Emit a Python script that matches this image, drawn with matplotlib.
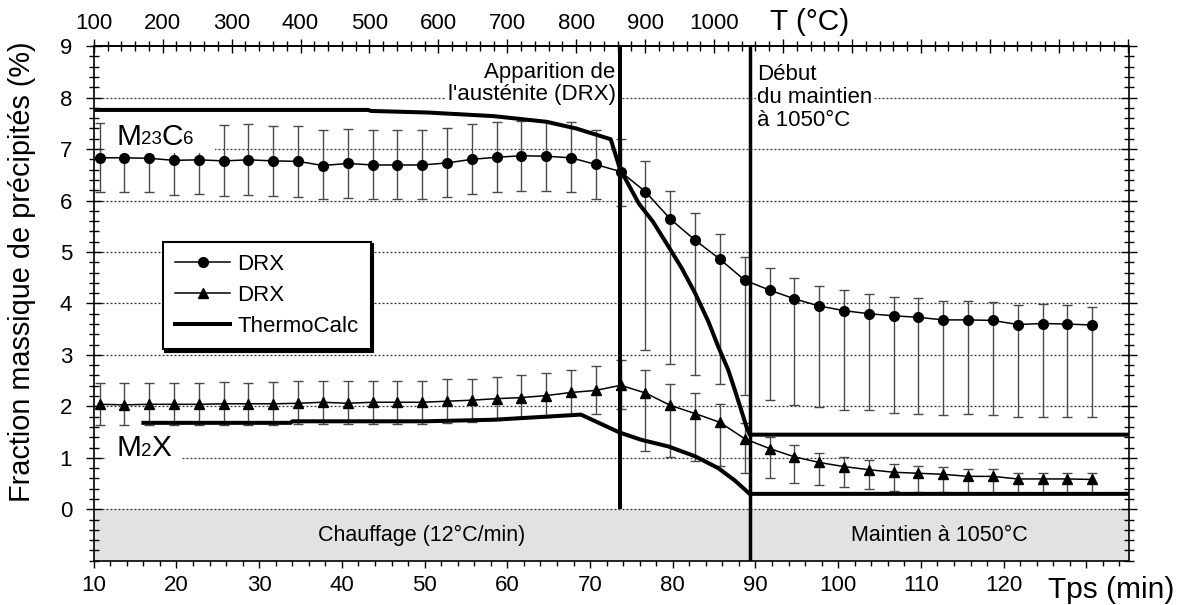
import matplotlib
matplotlib.use("Agg")
import matplotlib.pyplot as plt
from matplotlib.patches import Rectangle
from matplotlib.ticker import MultipleLocator, FuncFormatter

plt.rcParams["font.family"] = ["Liberation Sans", "DejaVu Sans"]

# ---- data ----
# time (min) of each DRX measurement
t_drx = [10.7, 13.7, 16.7, 19.7, 22.7, 25.7, 28.7, 31.7, 34.7, 37.7,
         40.7, 43.7, 46.7, 49.7, 52.7, 55.7, 58.7, 61.7, 64.7, 67.7,
         70.7, 73.7, 76.7, 79.7, 82.7, 85.7, 88.7, 91.7, 94.7, 97.7,
         100.7, 103.7, 106.7, 109.7, 112.7, 115.7, 118.7, 121.7, 124.7, 127.7,
         130.7]

# M23C6 (DRX, circles) with lower / upper bound of the error bars
m23_drx = [6.83, 6.83, 6.82, 6.78, 6.79, 6.77, 6.79, 6.77, 6.76, 6.68,
           6.72, 6.69, 6.69, 6.69, 6.73, 6.80, 6.84, 6.87, 6.86, 6.83,
           6.70, 6.56, 6.17, 5.64, 5.23, 4.86, 4.45, 4.26, 4.09, 3.95,
           3.86, 3.80, 3.76, 3.73, 3.68, 3.68, 3.67, 3.59, 3.61, 3.60,
           3.58]
m23_lo = [6.16, 6.16, 6.16, 6.10, 6.12, 6.09, 6.11, 6.09, 6.07, 6.03,
          6.04, 6.03, 6.03, 6.02, 6.06, 6.12, 6.16, 6.19, 6.19, 6.16,
          6.03, 5.89, 3.09, 2.82, 2.61, 2.43, 2.22, 2.13, 2.03, 1.98,
          1.93, 1.92, 1.88, 1.86, 1.83, 1.85, 1.83, 1.79, 1.80, 1.79,
          1.79]
m23_hi = [7.51, 7.48, 7.48, 7.45, 7.46, 7.46, 7.48, 7.45, 7.44, 7.37,
          7.39, 7.37, 7.37, 7.37, 7.40, 7.48, 7.52, 7.55, 7.55, 7.52,
          7.37, 7.19, 6.77, 6.19, 5.75, 5.34, 4.90, 4.69, 4.50, 4.33,
          4.26, 4.19, 4.13, 4.11, 4.05, 4.05, 4.03, 3.96, 3.99, 3.96,
          3.94]

# M2X (DRX, triangles)
m2x_drx = [2.04, 2.03, 2.04, 2.04, 2.04, 2.05, 2.05, 2.05, 2.06, 2.08,
           2.06, 2.08, 2.08, 2.08, 2.10, 2.12, 2.15, 2.17, 2.21, 2.27,
           2.31, 2.41, 2.26, 2.02, 1.86, 1.69, 1.37, 1.18, 1.02, 0.91,
           0.83, 0.77, 0.72, 0.70, 0.68, 0.64, 0.64, 0.59, 0.59, 0.59,
           0.58]
m2x_lo = [1.64, 1.63, 1.64, 1.64, 1.64, 1.64, 1.64, 1.64, 1.65, 1.66,
          1.65, 1.66, 1.66, 1.66, 1.68, 1.70, 1.74, 1.80, 1.80, 1.84,
          1.86, 1.94, 1.13, 1.02, 0.94, 0.85, 0.71, 0.60, 0.52, 0.47,
          0.43, 0.40, 0.36, 0.33, 0.33, 0.32, 0.32, 0.30, 0.30, 0.30,
          0.30]
m2x_hi = [2.45, 2.45, 2.46, 2.46, 2.45, 2.48, 2.46, 2.47, 2.49, 2.49,
          2.49, 2.49, 2.49, 2.49, 2.54, 2.54, 2.57, 2.60, 2.64, 2.70,
          2.79, 2.91, 2.71, 2.43, 2.26, 2.04, 1.67, 1.40, 1.24, 1.09,
          1.01, 0.96, 0.89, 0.85, 0.83, 0.79, 0.79, 0.71, 0.71, 0.71,
          0.71]

# ThermoCalc equilibrium curves
t_tc_m23 = [10.0, 43.2, 43.5, 50.3, 58.3, 64.7, 68.3, 72.5, 73.6, 75.9,
            77.6, 79.5, 81.1, 82.7, 84.3, 85.5, 86.7, 87.5, 88.9, 89.3,
            135.1]
m23_tc = [7.76, 7.76, 7.74, 7.71, 7.64, 7.53, 7.40, 7.19, 6.62, 5.94,
          5.59, 5.10, 4.68, 4.20, 3.65, 3.16, 2.71, 2.32, 1.61, 1.45,
          1.45]
t_tc_m2x = [16.0, 33.8, 34.0, 50.0, 58.3, 64.7, 68.9, 73.6, 76.2, 79.5,
            82.7, 85.5, 87.5, 89.3, 135.1]
m2x_tc = [1.68, 1.68, 1.71, 1.71, 1.74, 1.80, 1.84, 1.49, 1.35, 1.22,
          1.03, 0.80, 0.56, 0.30, 0.30]

# axes / annotations
x_ticks = [10, 20, 30, 40, 50, 60, 70, 80, 90, 100, 110, 120, 130]
x_tick_labels = ["10", "20", "30", "40", "50", "60", "70", "80", "90",
                 "100", "110", "120", ""]
y_ticks = [0, 1, 2, 3, 4, 5, 6, 7, 8, 9]
T_LAST_LABEL = 1000
T0, T_RATE = 100.0, 12.0     # temperature at t = 10 min, heating rate (°C/min)
T_AUST = 73.6                # appearance of austenite (min)
T_HOLD = 89.3                # start of the 1050 °C hold (min)
X_MAX = 135.1

FS_TICK = 16
FS_TXT = 16
FS_BIG = 21.5
FS_SUB = 13.5


def t2T(t):
    return T0 + T_RATE * (t - 10.0)


def T2t(T):
    return 10.0 + (T - T0) / T_RATE


def chem(ax, x, y, parts):
    # formula with small digits sitting on the baseline
    prev = ax.text(x, y, parts[0], fontsize=FS_BIG, va="bottom", zorder=7)
    for txt in parts[1:]:
        small = txt.isdigit()
        prev = ax.annotate(txt, xy=(1, 0), xycoords=prev,
                           xytext=(0, 1.5 if small else -1.5), textcoords="offset points",
                           fontsize=FS_SUB if small else FS_BIG, va="bottom", ha="left",
                           zorder=7)


fig = plt.figure(figsize=(11.78, 6.05), dpi=100)
ax = fig.add_axes([0.0796, 0.0731, 0.8784, 0.8507])

ax.set_xlim(10, X_MAX)
ax.set_ylim(-1, 9)

# heating / holding band
ax.axhspan(-1, 0, color="#e1e2e1", zorder=0, lw=0)
ax.text((10 + T_HOLD) / 2, -0.5, "Chauffage (12°C/min)", ha="center", va="center",
        fontsize=15.5)
ax.text((T_HOLD + X_MAX) / 2, -0.5, "Maintien à 1050°C", ha="center", va="center",
        fontsize=15.5)

# dotted grid
for yv in y_ticks[:-1]:
    ax.axhline(yv, color="#333333", lw=0.9, ls=(0, (1.6, 1.6)), zorder=1)

# error bars
ax.errorbar(t_drx, m23_drx,
            yerr=[[v - lo for v, lo in zip(m23_drx, m23_lo)],
                  [hi - v for v, hi in zip(m23_drx, m23_hi)]],
            fmt="none", ecolor="#4a4a4a", elinewidth=1.0, capsize=3.5, capthick=1.0,
            zorder=2)
ax.errorbar(t_drx, m2x_drx,
            yerr=[[v - lo for v, lo in zip(m2x_drx, m2x_lo)],
                  [hi - v for v, hi in zip(m2x_drx, m2x_hi)]],
            fmt="none", ecolor="#4a4a4a", elinewidth=1.0, capsize=3.5, capthick=1.0,
            zorder=2)

# white boxes behind phase names
ax.add_patch(Rectangle((11.3, 6.93), 13.3, 0.65, facecolor="white", edgecolor="none",
                       zorder=2.5))
ax.add_patch(Rectangle((11.3, 0.96), 9.2, 0.54, facecolor="white", edgecolor="none",
                       zorder=2.5))

# ThermoCalc
l_tc, = ax.plot(t_tc_m23, m23_tc, color="k", lw=2.9, zorder=3)
ax.plot(t_tc_m2x, m2x_tc, color="k", lw=2.9, zorder=3)

# event lines
ax.plot([T_AUST, T_AUST], [0, 9], color="k", lw=2.9, zorder=4, solid_capstyle="butt")
ax.plot([T_HOLD, T_HOLD], [-1, 9], color="k", lw=2.5, zorder=4, solid_capstyle="butt")

# DRX measurements
l_circ, = ax.plot(t_drx, m23_drx, "-o", color="k", lw=1.1, ms=7, zorder=5)
l_tri, = ax.plot(t_drx, m2x_drx, "-^", color="k", lw=1.1, ms=7.5, zorder=5)

chem(ax, 12.7, 6.97, ["M", "23", "C", "6"])
chem(ax, 12.7, 0.92, ["M", "2", "X"])

ax.text(73.1, 8.27, "Apparition de\nl'austénite (DRX)", ha="right", va="center",
        multialignment="right", linespacing=1.1, fontsize=FS_TXT, zorder=6,
        bbox=dict(facecolor="white", edgecolor="none", pad=1))
ax.text(90.2, 8.0, "Début\ndu maintien\nà 1050°C", ha="left", va="center",
        linespacing=1.1, fontsize=FS_TXT, zorder=6,
        bbox=dict(facecolor="white", edgecolor="none", pad=1))

leg = ax.legend([l_circ, l_tri, l_tc], ["DRX", "DRX", "ThermoCalc"],
                loc="upper left", bbox_to_anchor=(0.0666, 0.620), fontsize=FS_TXT,
                frameon=True, fancybox=False, shadow={"color": "black", "alpha": 1},
                framealpha=1, edgecolor="black", handlelength=2.5, handletextpad=0.3,
                labelspacing=0.45, borderpad=0.55, borderaxespad=0)
leg.get_frame().set_linewidth(1.5)
leg.set_zorder(8)

# ticks
ax.set_xticks(x_ticks)
ax.set_xticklabels(x_tick_labels)
ax.xaxis.set_minor_locator(MultipleLocator(2))
ax.set_yticks(y_ticks)
ax.yaxis.set_minor_locator(MultipleLocator(0.2))
ax.tick_params(axis="x", which="both", direction="out", top=False, labelsize=FS_TICK,
               pad=5.5, width=1)
ax.tick_params(axis="x", which="major", length=5)
ax.tick_params(axis="x", which="minor", length=3.5)
ax.tick_params(axis="y", which="both", direction="inout", left=True, right=True,
               labelsize=FS_TICK, pad=10, width=1)
ax.tick_params(axis="y", which="major", length=11)
ax.tick_params(axis="y", which="minor", length=7.5)
for sp in ax.spines.values():
    sp.set_linewidth(1.2)

sec = ax.secondary_xaxis("top", functions=(t2T, T2t))
sec.xaxis.set_major_locator(MultipleLocator(100))
sec.xaxis.set_minor_locator(MultipleLocator(20))
sec.xaxis.set_major_formatter(FuncFormatter(
    lambda v, p: "%d" % v if v <= T_LAST_LABEL + 1 else ""))
sec.tick_params(axis="x", which="both", direction="inout", labelsize=FS_TICK, pad=4,
                width=1)
sec.tick_params(axis="x", which="major", length=10)
sec.tick_params(axis="x", which="minor", length=7)
sec.spines["top"].set_linewidth(1.2)

fig.text(22 / 1178, 1 - 272 / 605, "Fraction massique de précipités (%)", rotation=90,
         ha="center", va="center", fontsize=20.8)
fig.text(1048 / 1178, 1 - 598 / 605, "Tps (min)", ha="left", va="baseline",
         fontsize=FS_BIG)
fig.text(770 / 1178, 1 - 30 / 605, "T (°C)", ha="left", va="baseline", fontsize=FS_BIG)

fig.savefig("out.png", dpi=100)
